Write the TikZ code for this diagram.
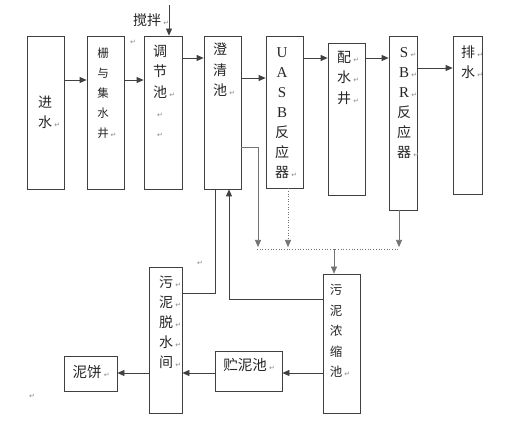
\documentclass[tikz,border=0pt]{standalone}
\usepackage{fontspec}
\setmainfont{Liberation Serif}
\newfontfamily\cjk{Noto Sans CJK SC}
\newfontfamily\dejavu{DejaVu Sans}
\usetikzlibrary{arrows.meta}
\newcommand\rtmark{{\dejavu\fontsize{7}{7}\selectfont\color{black!45}↵}}
\newcommand\rt{\rlap{\,\rtmark}}
\newcommand\lat[1]{{\rmfamily\fontsize{15}{15}\selectfont #1}}
\begin{document}
\begin{tikzpicture}[x=1pt,y=-1pt,
  box/.style={draw=black!75,line width=0.8pt,inner sep=0pt,rectangle},
  lbl/.style={inner sep=0pt,anchor=north,align=center,text=black!85,font=\cjk\fontsize{14}{20.3}\selectfont},
  one/.style={inner sep=0pt,anchor=center,text=black!85,font=\cjk\fontsize{14}{16}\selectfont},
  arr/.style={draw=black!75,line width=0.8pt,-{Triangle[length=7pt,width=6pt]}},
  ln/.style={draw=black!75,line width=0.8pt},
  garr/.style={draw=black!55,line width=0.6pt,-{Triangle[length=7pt,width=6pt]}},
  gln/.style={draw=black!55,line width=0.7pt}
]
\useasboundingbox (0,0) rectangle (522,430);
\fill[white] (0,0) rectangle (522,430);
% boxes
\node[box,minimum width=37,minimum height=153] (jin) at (45.5,112.5) {};
\node[box,minimum width=37,minimum height=153] (zha) at (105.5,112.5) {};
\node[box,minimum width=38,minimum height=153] (tiao) at (163,112.5) {};
\node[box,minimum width=37,minimum height=153] (cheng) at (222.5,112.5) {};
\node[box,minimum width=37,minimum height=152] (uasb) at (284.5,112) {};
\node[box,minimum width=37,minimum height=152] (pei) at (346.5,119) {};
\node[box,minimum width=28,minimum height=174] (sbr) at (403,123) {};
\node[box,minimum width=29,minimum height=158] (pai) at (467.5,115) {};
\node[box,minimum width=37,minimum height=139] (nong) at (341.5,343.5) {};
\node[box,minimum width=67,minimum height=40] (zhu) at (248.5,371) {};
\node[box,minimum width=33,minimum height=146] (tuo) at (165.5,340) {};
\node[box,minimum width=53,minimum height=35] (bing) at (90.5,373.5) {};
% labels
\node[lbl] (tjin) at (45,96) {进\\水\rt};
\node[lbl,font=\cjk\fontsize{11.5}{20}\selectfont] (tzha) at (103,47.5) {栅\\与\\集\\水\\井\rt};
\node[lbl] (ttiao) at (160,45) {调\\节\\池\rt\\\rtmark\\\rtmark};
\node[lbl] (tcheng) at (220,43) {澄\\清\\池\rt};
\node[lbl,font=\cjk\fontsize{14}{20}\selectfont] (tuasb) at (282,45.3) {\vphantom{中}\lat{U}\\\lat{A}\\\lat{S}\\\lat{B}\\反\\应\\器\rt};
\node[lbl,font=\cjk\fontsize{14}{20.5}\selectfont] (tpei) at (344,51) {配\rt\\水\rt\\井\rt};
\node[lbl,font=\cjk\fontsize{14}{20}\selectfont] (tsbr) at (404,45.3) {\vphantom{中}\lat{S}\rt\\\lat{B}\rt\\\lat{R}\rt\\反\\应\\器\rt};
\node[lbl,font=\cjk\fontsize{14}{20}\selectfont] (tpai) at (468,46) {排\rt\\水\rt};
\node[lbl,font=\cjk\fontsize{12.5}{20.5}\selectfont] (tnong) at (336,284) {污\\泥\\浓\\缩\\池\rt};
\node[lbl,font=\cjk\fontsize{14}{20}\selectfont] (ttuo) at (166,276) {污\rt\\泥\rt\\脱\rt\\水\rt\\间\rt};
\node[one,font=\cjk\fontsize{14.5}{16}\selectfont] (tzhu) at (245,365) {贮泥池\rt};
\node[one,font=\cjk\fontsize{14.5}{16}\selectfont] (tbing) at (87,372) {泥饼\rt};
\node[one] (tjiao) at (147,20) {搅拌\rt};
\node[inner sep=0pt] (r1) at (133,42) {\rtmark};
\node[inner sep=0pt] (r2) at (200,263) {\rtmark};
\node[inner sep=0pt] (r3) at (32,396) {\rtmark};
% coordinates
\coordinate (h58) at (0,58);
\coordinate (h68) at (0,68);
\coordinate (h78) at (0,78);
\coordinate (h80) at (0,80);
\coordinate (h147) at (0,147);
\coordinate (h293) at (0,293);
\coordinate (h299) at (0,299);
\coordinate (h373) at (0,373);
\coordinate (v215) at (215,0);
\coordinate (v229) at (229,0);
\coordinate (stirtop) at (169,5);
\coordinate (a1) at (258,247);
\coordinate (a2) at (288,247);
\coordinate (a3) at (399,247);
\coordinate (d1) at (257,249);
\coordinate (d2) at (400,249);
\coordinate (d3) at (334,249);
% main flow
\draw[arr] (stirtop) -- (stirtop |- tiao.north);
\draw[arr] (jin.east |- h80) -- (zha.west |- h80);
\draw[arr] (zha.east |- h80) -- (tiao.west |- h80);
\draw[arr] (tiao.east |- h58) -- (cheng.west |- h58);
\draw[arr] (cheng.east |- h78) -- (uasb.west |- h78);
\draw[arr] (uasb.east |- h58) -- (pei.west |- h58);
\draw[arr] (pei.east |- h58) -- (sbr.west |- h58);
\draw[arr] (sbr.east |- h68) -- (pai.west |- h68);
% sludge collection
\draw[garr] (cheng.east |- h147) -| (a1);
\draw[garr,dotted] (uasb.south -| a2) -- (a2);
\draw[garr] (sbr.south -| a3) -- (a3);
\draw[gln,dotted] (d1) -- (d2);
\draw[garr] (d3) -- (d3 |- nong.north);
% sludge treatment
\draw[arr] (nong.west |- h299) -| (v229 |- cheng.south);
\draw[ln] (v215 |- cheng.south) |- (tuo.east |- h293);
\draw[arr] (nong.west |- h373) -- (zhu.east |- h373);
\draw[arr] (zhu.west |- h373) -- (tuo.east |- h373);
\draw[arr] (tuo.west |- h373) -- (bing.east |- h373);
\end{tikzpicture}
\end{document}
